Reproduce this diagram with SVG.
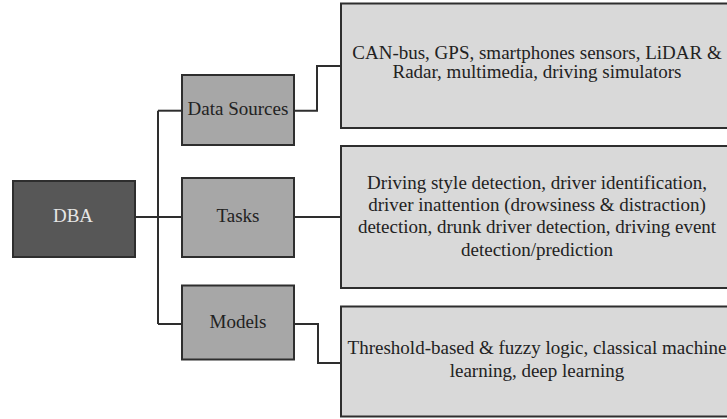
<svg xmlns="http://www.w3.org/2000/svg" width="727" height="419" viewBox="0 0 727 419">
  <style>
    .box { stroke: #2e2e2e; stroke-width: 2; }
    .root { fill: #575757; }
    .mid { fill: #a7a7a7; }
    .leaf { fill: #d9d9d9; }
    .lbl { font-family: "Liberation Serif", "Times New Roman", serif; font-size: 19px; fill: #222222; text-anchor: middle; }
    .root-lbl { fill: #e6e6e6; }
    .wire { fill: none; stroke: #2e2e2e; stroke-width: 2; }
  </style>

  <rect width="727" height="419" fill="#ffffff"/>

  <!-- connectors -->
  <g id="connectors">
    <path class="wire" d="M135 217 H158" stroke-width="2.6"/>
    <path class="wire" d="M158 110.7 V324"/>
    <path class="wire" d="M158 110.7 H182"/>
    <path class="wire" d="M158 217 H182"/>
    <path class="wire" d="M158 324 H182"/>
    <path class="wire" d="M294 110.7 H317 V66 H341"/>
    <path class="wire" d="M294 217 H341"/>
    <path class="wire" d="M294 324 H318 V363 H341"/>
  </g>

  <!-- root node -->
  <g id="dba">
    <rect class="box root" x="13" y="181" width="122" height="76"/>
    <text class="lbl root-lbl" x="73" y="222.3">DBA</text>
  </g>

  <!-- category nodes -->
  <g id="data-sources">
    <rect class="box mid" x="182" y="75" width="112" height="70"/>
    <text class="lbl" x="238" y="114.5">Data Sources</text>
  </g>
  <g id="tasks">
    <rect class="box mid" x="182" y="178" width="112" height="79"/>
    <text class="lbl" x="238" y="222.3">Tasks</text>
  </g>
  <g id="models">
    <rect class="box mid" x="182" y="285.5" width="112" height="74"/>
    <text class="lbl" x="238" y="327.7">Models</text>
  </g>

  <!-- detail nodes -->
  <g id="data-sources-detail">
    <rect class="box leaf" x="341" y="3.5" width="400" height="124.5"/>
    <text class="lbl" x="537" y="58.5">CAN-bus, GPS, smartphones sensors, LiDAR &amp;</text>
    <text class="lbl" x="537" y="78">Radar, multimedia, driving simulators</text>
  </g>
  <g id="tasks-detail">
    <rect class="box leaf" x="341" y="146" width="400" height="142"/>
    <text class="lbl" x="537" y="188.5">Driving style detection, driver identification,</text>
    <text class="lbl" x="537" y="210.8">driver inattention (drowsiness &amp; distraction)</text>
    <text class="lbl" x="537" y="233.2">detection, drunk driver detection, driving event</text>
    <text class="lbl" x="537" y="255.5">detection/prediction</text>
  </g>
  <g id="models-detail">
    <rect class="box leaf" x="341" y="306.5" width="400" height="110"/>
    <text class="lbl" x="537" y="354">Threshold-based &amp; fuzzy logic, classical machine</text>
    <text class="lbl" x="537" y="376.7">learning, deep learning</text>
  </g>
</svg>
